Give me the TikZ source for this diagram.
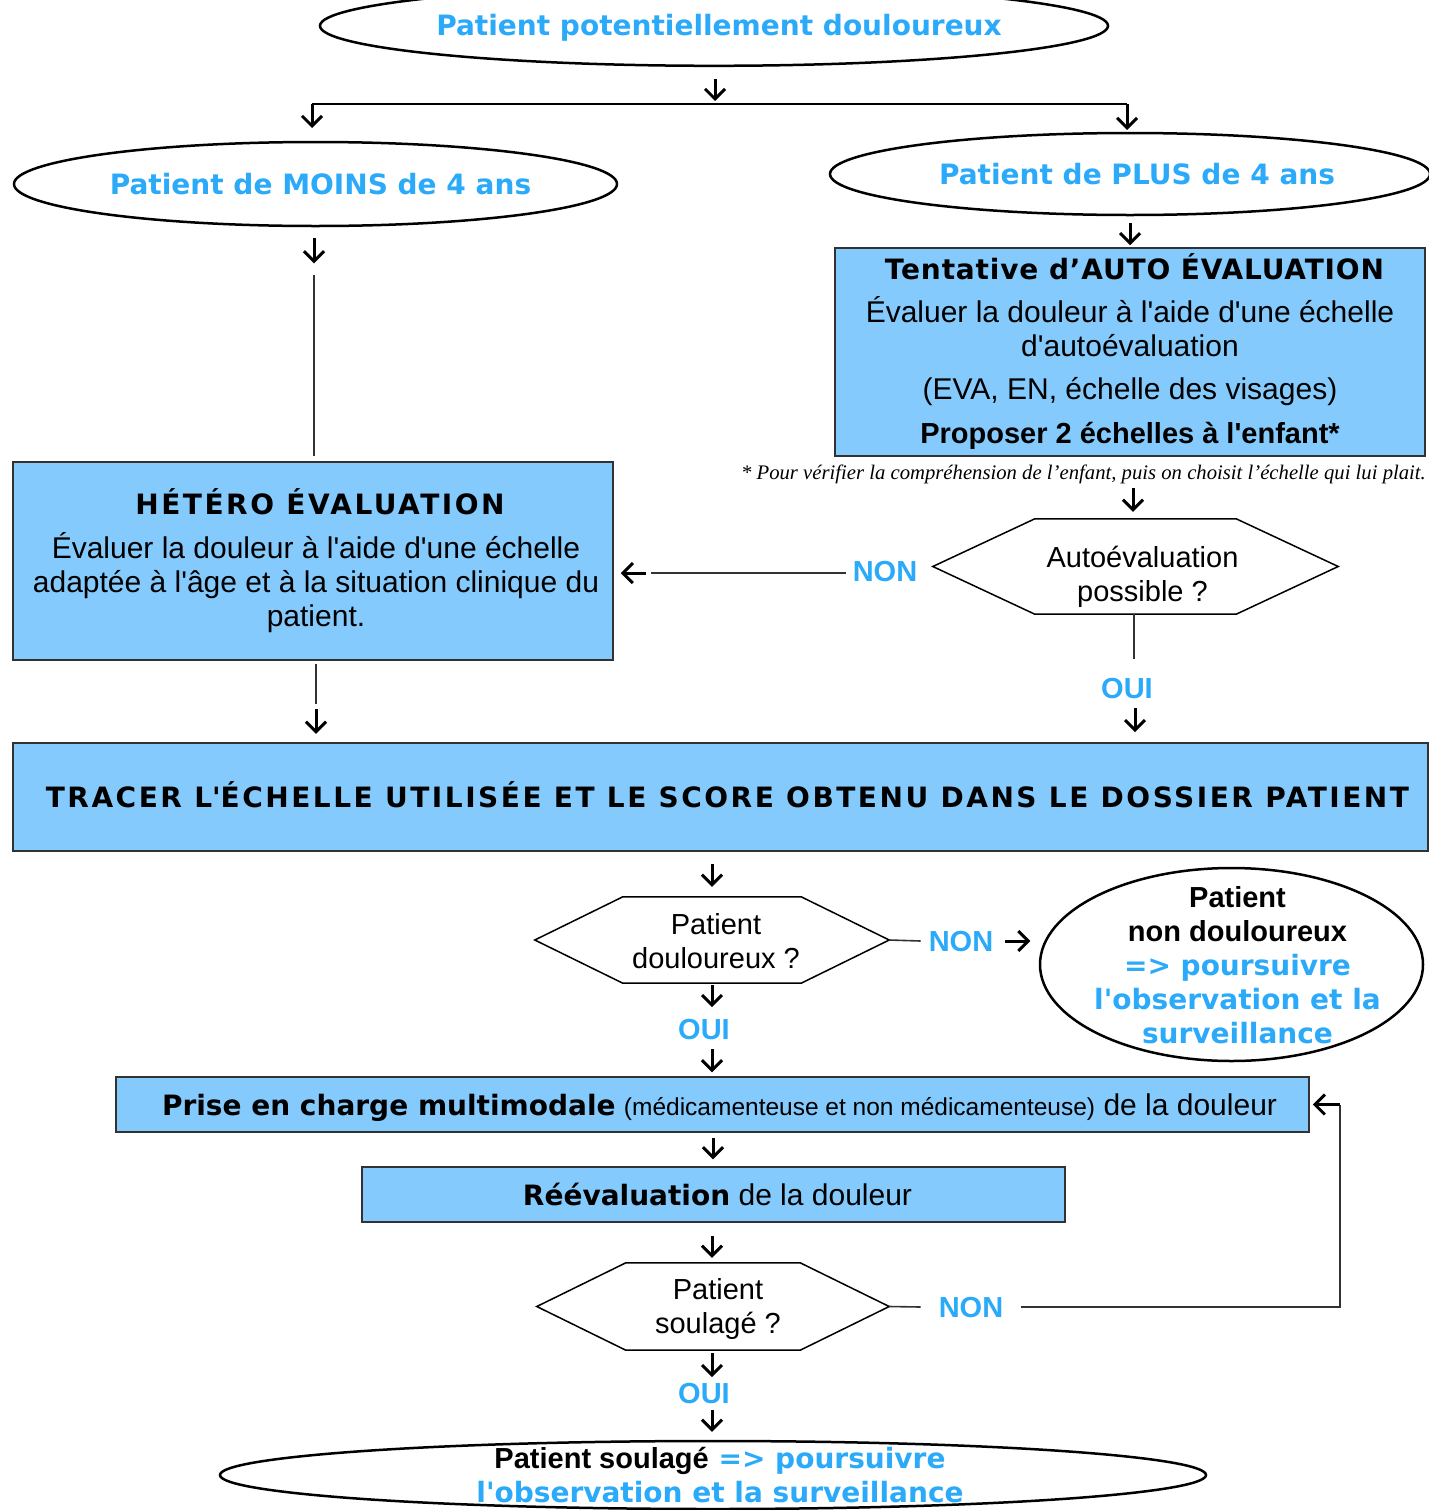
\documentclass[tikz,border=0pt]{standalone}
\usepackage{fontspec}
\setmainfont{Liberation Sans}
\newfontfamily\heavyfont{DejaVu Sans}
\newfontfamily\heavyspaced{DejaVu Sans}[LetterSpace=9]
\newfontfamily\heavyslight{DejaVu Sans}[LetterSpace=3]
\newfontfamily\serifnote{Liberation Serif}
\usetikzlibrary{shapes.geometric,arrows.meta,calc}
\definecolor{boxblue}{RGB}{132,202,253}
\definecolor{txtblue}{RGB}{43,170,250}
\definecolor{edgegray}{RGB}{50,50,50}
\newcommand\sq{\textquotesingle}
\newcommand\hvf{\heavyfont\bfseries\fontsize{28}{34}\selectfont}
\newcommand\hvsp{\heavyspaced\bfseries\fontsize{28}{34}\selectfont}
\newcommand\hvsl{\heavyslight\bfseries\fontsize{28}{34}\selectfont}
\newcommand\rgf{\fontsize{29}{34}\selectfont}
\newcommand\rgb{\fontsize{30}{34}\selectfont}
\newcommand\bdf{\normalfont\bfseries\fontsize{29}{34}\selectfont}
\newcommand\drawhex[2]{\draw[hexframe] (#1.west) -- ($(#1.north west)+(#2,0)$) -- ($(#1.north east)+(-#2,0)$) -- (#1.east) -- ($(#1.south east)+(-#2,0)$) -- ($(#1.south west)+(#2,0)$) -- cycle;}
\begin{document}
\begin{tikzpicture}[x=1pt,y=-1pt,
  ellshape/.style={ellipse, draw=black, line width=2.5pt, inner sep=0pt},
  bluebox/.style={rectangle, draw=edgegray, line width=1.5pt, fill=boxblue, inner sep=0pt, align=center, font=\rgb},
  oneline/.style={text height=21pt, text depth=0pt},
  hexbase/.style={rectangle, inner sep=0pt},
  hexframe/.style={draw=black, line width=1.5pt},
  hextext/.style={align=center, inner sep=0pt, font=\rgf},
  conn/.style={draw=edgegray, line width=1.6pt},
  arr/.style={line width=3pt, -{Straight Barb[length=10pt,width=20pt]}},
  lbl/.style={font=\bdf, text=txtblue, inner sep=0pt, text height=20pt, text depth=0pt},
  headtxt/.style={font=\hvf, text=txtblue, inner sep=0pt, text height=20pt, text depth=0pt}
]
\useasboundingbox[fill=white] (0,0) rectangle (1428,1510);

% ---- top ----
\node[ellshape, minimum width=788pt, minimum height=80pt] (top) at (714,25.8) {};
\node[headtxt] (toptxt) at ($(top)+(5,0)$) {Patient potentiellement douloureux};

\coordinate (split) at (715,104);
\coordinate (splitL) at (312,104);
\coordinate (splitR) at (1127,104);
\draw[arr] ($(top.south)+(1,12)$) -- ($(split)+(0,-3)$);
\draw[conn, draw=black] (splitL) -- (splitR);
\draw[arr] (splitL) -- ($(splitL)+(0,24)$);
\draw[arr] (splitR) -- ($(splitR)+(0,26)$);

% ---- age ellipses ----
\node[ellshape, minimum width=603pt, minimum height=84pt] (moins) at (315.5,184) {};
\node[headtxt] (moinstxt) at ($(moins)+(5,0)$) {Patient de MOINS de 4 ans};
\node[ellshape, minimum width=600pt, minimum height=82pt] (plus) at (1130,174) {};
\node[headtxt] (plustxt) at ($(plus)+(7,0)$) {Patient de PLUS de 4 ans};

% ---- auto evaluation box ----
\node[bluebox, minimum width=590pt, minimum height=208pt] (auto) at (1130,352)
  {\hspace*{9pt}{\hvsl Tentative d’AUTO ÉVALUATION}\\[9pt]
   Évaluer la douleur à l\sq aide d\sq une échelle\\
   d\sq autoévaluation\\[9pt]
   (EVA, EN, échelle des visages)\\[10pt]
   {\bdf Proposer 2 échelles à l\sq enfant*}};
\node[font=\serifnote\itshape\fontsize{20.7}{24}\selectfont, anchor=east, inner sep=0pt] (note) at (1426,474)
  {* Pour vérifier la compréhension de l’enfant, puis on choisit l’échelle qui lui plait.};

% ---- hetero evaluation box ----
\node[bluebox, minimum width=600pt, minimum height=198pt] (hetero) at (313,561)
  {\hspace*{14pt}{\hvsp HÉTÉRO ÉVALUATION}\\[10pt]
   \hspace*{6pt}Évaluer la douleur à l\sq aide d\sq une échelle\\
   \hspace*{6pt}adaptée à l\sq âge et à la situation clinique du\\
   \hspace*{6pt}patient.};

% ---- question 1 ----
\node[hexbase, minimum width=405pt, minimum height=95pt] (q1) at (1135.5,566.5) {};
\drawhex{q1}{102}
\node[hextext] (q1t) at ($(q1)+(7,10)$) {Autoévaluation\\possible ?};
\node[lbl] (non1) at (885,571) {NON};
\node[lbl] (oui1) at (1127,688) {OUI};

% ---- big box ----
\node[bluebox, oneline, minimum width=1415pt, minimum height=108pt] (big) at (720.5,797)
  {\hspace*{14pt}{\hvsp TRACER L\sq ÉCHELLE UTILISÉE ET LE SCORE OBTENU DANS LE DOSSIER PATIENT}};

% ---- question 2 ----
\node[hexbase, minimum width=354pt, minimum height=86pt] (q2) at (712,940) {};
\drawhex{q2}{88}
\node[hextext] (q2t) at ($(q2)+(4,1)$) {Patient\\douloureux ?};
\node[lbl] (non2) at (961,941) {NON};
\node[lbl] (oui2) at (704,1029) {OUI};

\node[ellshape, minimum width=383pt, minimum height=193pt] (nd) at (1231.5,964.5) {};
\node[align=center, inner sep=0pt, font=\hvf, text=txtblue] (ndtxt) at ($(nd)+(6,1)$)
  {\textcolor{black}{\bdf Patient}\\\textcolor{black}{\bdf non douloureux}\\=> poursuivre\\l\sq observation et la\\surveillance};

% ---- prise en charge ----
\node[bluebox, oneline, minimum width=1193pt, minimum height=55pt] (prise) at (712.5,1104.5)
  {\hspace*{14pt}{\hvf Prise en charge multimodale} {\fontsize{24.5}{34}\selectfont(médicamenteuse et non médicamenteuse)} de la douleur};
\node[bluebox, oneline, minimum width=703pt, minimum height=55pt] (reeval) at (713.5,1194.5)
  {\hspace*{8pt}{\hvf Réévaluation} de la douleur};

% ---- question 3 ----
\node[hexbase, minimum width=352pt, minimum height=87pt] (q3) at (713,1306.5) {};
\drawhex{q3}{89}
\node[hextext] (q3t) at ($(q3)+(5,2)$) {Patient\\soulagé ?};
\node[lbl] (non3) at (971,1307) {NON};
\node[lbl] (oui3) at (704,1393) {OUI};

% ---- bottom ----
\node[ellshape, minimum width=986pt, minimum height=68pt] (bottom) at (713,1475) {};
\node[align=center, inner sep=0pt, font=\hvf, text=txtblue] (bottxt) at ($(bottom)+(7,0)$)
  {\textcolor{black}{\bdf Patient soulagé} => poursuivre\\l\sq observation et la surveillance};

% ---- connectors ----
\draw[arr] ($(moins.south)+(-1.5,11)$) -- ($(moins.south)+(-1.5,36)$);
\draw[conn] ($(hetero.north)+(1,-186)$) -- ($(hetero.north)+(1,-5)$);
\draw[arr] ($(plus.south)+(0,7)$) -- ($(auto.north)+(0,-2)$);
\draw[arr] ($(q1.north)+(-2.5,-31)$) -- ($(q1.north)+(-2.5,-7)$);

\draw[conn] ($(non1.west)+(-7,2)$) -- ($(hetero.east)+(37,12)$);
\draw[arr] ($(hetero.east)+(32,12)$) -- ($(hetero.east)+(7,12)$);

\draw[conn] ($(q1.south)+(-1.5,0)$) -- ($(q1.south)+(-1.5,45)$);
\draw[arr] ($(oui1.south)+(8,10)$) -- ($(oui1.south)+(8,34)$);

\draw[conn] ($(hetero.south)+(3,3)$) -- ($(hetero.south)+(3,43)$);
\draw[arr] ($(hetero.south)+(3,48)$) -- ($(hetero.south)+(3,73)$);

\draw[arr] ($(q2.north)+(0,-33)$) -- ($(q2.north)+(0,-10)$);
\draw[conn] (q2.east) -- ($(non2.west)+(-8,0)$);
\draw[arr] ($(non2.east)+(12,0)$) -- ($(non2.east)+(37,0)$);
\draw[arr] ($(q2.south)+(0,2)$) -- ($(q2.south)+(0,24)$);
\draw[arr] ($(prise.north)+(-0.5,-27)$) -- ($(prise.north)+(-0.5,-4)$);

\draw[arr] ($(prise.south)+(0.5,5)$) -- ($(reeval.north)+(-0.5,-7)$);
\draw[arr] ($(reeval.south)+(-1.5,13)$) -- ($(q3.north)+(-1,-5)$);

\coordinate (loopA) at (1340,1307);
\coordinate (loopB) at (1340,1104.5);
\draw[conn] (q3.east) -- ($(non3.west)+(-18,0)$);
\draw[conn] ($(non3.east)+(18,0)$) -- (loopA) -- (loopB);
\draw[arr] (loopB) -- ($(prise.east)+(3,0)$);

\draw[arr] ($(q3.south)+(-1,3)$) -- ($(q3.south)+(-1,27)$);
\draw[arr] ($(oui3.south)+(8,7)$) -- ($(bottom.north)+(-1,-8)$);
\end{tikzpicture}
\end{document}
